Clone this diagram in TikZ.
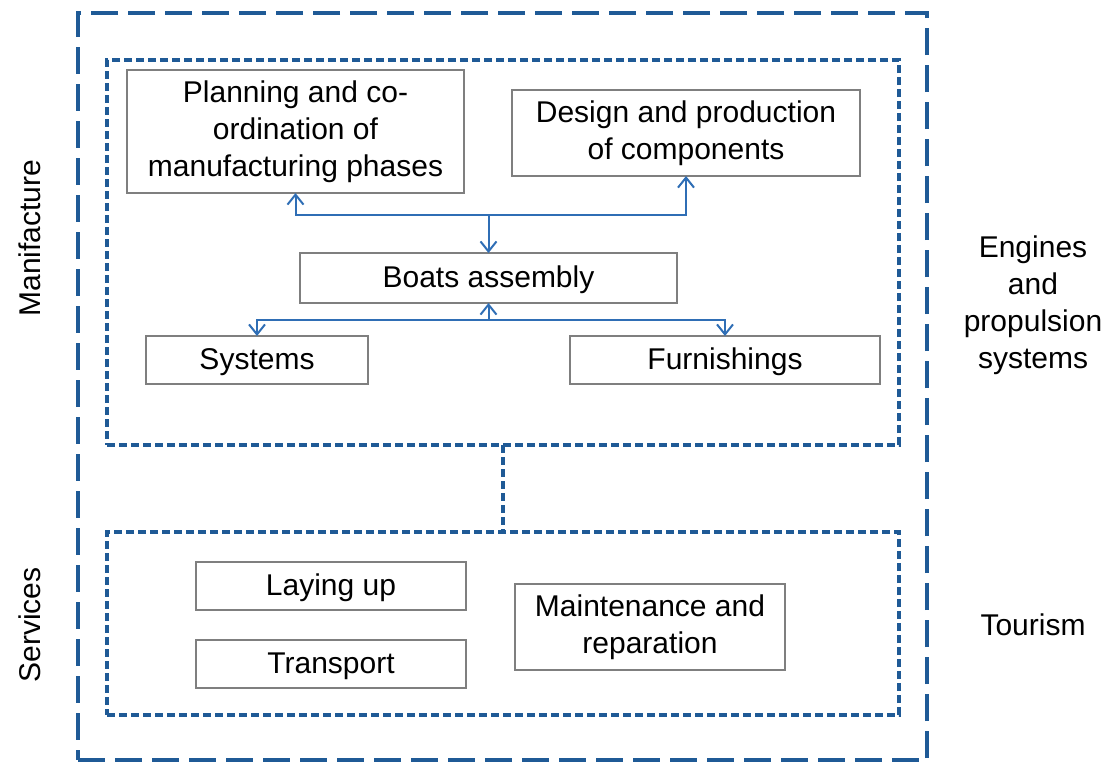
\documentclass[tikz,border=0pt]{standalone}
\usepackage{fontspec}
\setmainfont{Liberation Sans}
\usetikzlibrary{arrows.meta}

\definecolor{framecol}{HTML}{1F5A96}
\definecolor{linkcol}{HTML}{2F6EB5}
\definecolor{boxcol}{HTML}{7F7F7F}

\begin{document}
\begin{tikzpicture}[x=0.5pt, y=-0.5pt,
  every node/.style={font=\fontsize{15}{18.5}\selectfont, align=center, inner sep=0pt, outer sep=0pt},
  stepbox/.style={draw=boxcol, line width=0.8pt},
  area/.style={draw=framecol, line width=1.7pt, dash pattern=on 4pt off 2pt},
  bigarea/.style={draw=framecol, line width=1.6pt, dash pattern=on 13.5pt off 5pt},
  link/.style={draw=linkcol, line width=1pt, -{Straight Barb[length=5pt,width=8pt]}}
  ]
  \useasboundingbox (0,0) rectangle (1113,762);

  % frames
  \node[bigarea, minimum width=424.5pt, minimum height=373.5pt] (whole) at (502.5,386.5) {};
  \node[area, minimum width=396pt, minimum height=192.5pt] (manuf) at (503,252.5) {};
  \node[area, minimum width=396pt, minimum height=91.5pt] (serv) at (503,623.5) {};
  \draw[area] (manuf.south) -- (serv.north);

  % manufacture
  \node[stepbox, minimum width=168.5pt, minimum height=61.5pt] (planning) at (295.5,131.5)
    {Planning and co-\\ordination of\\manufacturing phases};
  \node[stepbox, minimum width=174pt, minimum height=43pt] (design) at (686,133)
    {Design and production\\of components};
  \node[stepbox, minimum width=188.5pt, minimum height=25pt, text depth=1pt] (boats) at (488.5,278) {Boats assembly};
  \node[stepbox, minimum width=111pt, minimum height=24pt, text depth=1pt] (systems) at (257,360) {Systems};
  \node[stepbox, minimum width=155pt, minimum height=24pt, text depth=1pt] (furnishings) at (725,360) {Furnishings};

  \coordinate (jtop) at (boats.north |- 0,215);
  \coordinate (jbot) at (boats.south |- 0,320);
  \draw[link] (jtop) -| (planning.south);
  \draw[link] (jtop) -| (design.south);
  \draw[link] (jtop) -- (boats.north);
  \draw[link] (jbot) -- (boats.south);
  \draw[link] (jbot) -| (systems.north);
  \draw[link] (jbot) -| (furnishings.north);

  % services
  \node[stepbox, minimum width=135pt, minimum height=24pt, text depth=1pt] (layingup) at (331,586) {Laying up};
  \node[stepbox, minimum width=135pt, minimum height=24pt, text depth=1pt] (transport) at (331,664) {Transport};
  \node[stepbox, minimum width=135pt, minimum height=43pt] (maintenance) at (650,627)
    {Maintenance and\\reparation};

  % side labels
  \node[rotate=90] (manuflabel) at (30,238) {Manifacture};
  \node[rotate=90] (servlabel) at (30,625) {Services};
  \node (engines) at (1033,305) {Engines\\and\\propulsion\\systems};
  \node (tourism) at (1033,625) {Tourism};
\end{tikzpicture}
\end{document}
